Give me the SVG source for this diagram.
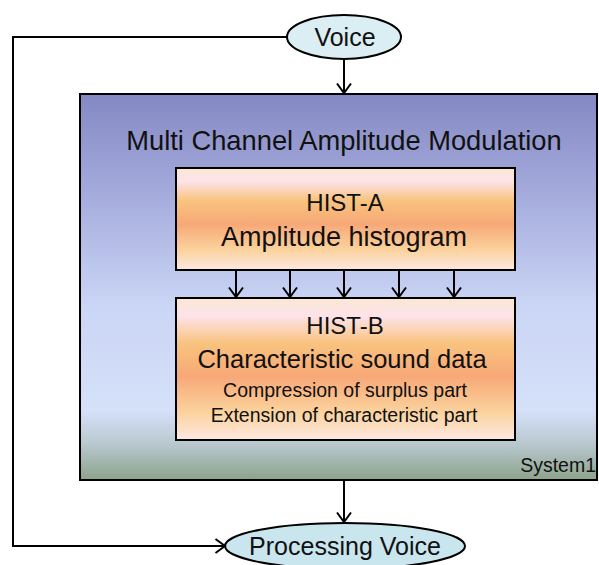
<svg xmlns="http://www.w3.org/2000/svg" width="599" height="565" viewBox="0 0 599 565">
<style>
text{font-family:"Liberation Sans",Arial,sans-serif;fill:#111;text-anchor:middle}
.ln{fill:none;stroke:#000;stroke-width:2}
.bx{stroke:#000;stroke-width:2}
</style>
<defs>
<linearGradient id="gOuter" x1="0" y1="0" x2="0" y2="1">
<stop offset="0" stop-color="#8488c3"/>
<stop offset="0.25" stop-color="#a3aadb"/>
<stop offset="0.55" stop-color="#cbd5f5"/>
<stop offset="0.82" stop-color="#d5e0f9"/>
<stop offset="0.9" stop-color="#bccad3"/>
<stop offset="1" stop-color="#8ca38b"/>
</linearGradient>
<linearGradient id="gHist" x1="0" y1="0" x2="0" y2="1">
<stop offset="0" stop-color="#fbe7d4"/>
<stop offset="0.13" stop-color="#fde3ea"/>
<stop offset="0.32" stop-color="#f9c37e"/>
<stop offset="0.55" stop-color="#f7a877"/>
<stop offset="0.8" stop-color="#fbd29c"/>
<stop offset="1" stop-color="#fde8e2"/>
</linearGradient>
<marker id="arr" markerUnits="userSpaceOnUse" markerWidth="16" markerHeight="16" viewBox="0 0 16 16" refX="14" refY="8" orient="auto">
<path d="M4.5,1 L14,8 L4.5,15" fill="none" stroke="#000" stroke-width="2"/>
</marker>
</defs>
<g id="system1">
<rect class="bx" x="80" y="94" width="517" height="386" fill="url(#gOuter)"/>
<text x="344" y="150" font-size="27.3">Multi Channel Amplitude Modulation</text>
<text x="596" y="472" font-size="19.5" style="text-anchor:end">System1</text>
</g>
<g id="hist-a">
<rect class="bx" x="176" y="168" width="339" height="102" fill="url(#gHist)"/>
<text x="345" y="211" font-size="24">HIST-A</text>
<text x="344" y="246" font-size="27">Amplitude histogram</text>
</g>
<g id="hist-b">
<rect class="bx" x="176" y="298" width="339" height="142" fill="url(#gHist)"/>
<text x="345" y="334" font-size="24">HIST-B</text>
<text x="342" y="368" font-size="25.5">Characteristic sound data</text>
<text x="345" y="397" font-size="19.5">Compression of surplus part</text>
<text x="344" y="422" font-size="19.5">Extension of characteristic part</text>
</g>
<g id="voice">
<ellipse class="bx" cx="344" cy="37" rx="57" ry="22" fill="#daeef3"/>
<text x="345" y="46" font-size="25">Voice</text>
</g>
<g id="processing-voice">
<ellipse class="bx" cx="345" cy="546" rx="120" ry="23" fill="#c9e5ee"/>
<text x="345" y="555" font-size="25">Processing Voice</text>
</g>
<g id="connectors">
<path class="ln" d="M344,59 L344,93" marker-end="url(#arr)"/>
<path class="ln" d="M287,37 L13,37 L13,546 L225,546" marker-end="url(#arr)"/>
<path class="ln" d="M344,481 L344,522" marker-end="url(#arr)"/>
<path class="ln" d="M236,271 L236,297" marker-end="url(#arr)"/>
<path class="ln" d="M290,271 L290,297" marker-end="url(#arr)"/>
<path class="ln" d="M344,271 L344,297" marker-end="url(#arr)"/>
<path class="ln" d="M399,271 L399,297" marker-end="url(#arr)"/>
<path class="ln" d="M454,271 L454,297" marker-end="url(#arr)"/>
</g>
</svg>
